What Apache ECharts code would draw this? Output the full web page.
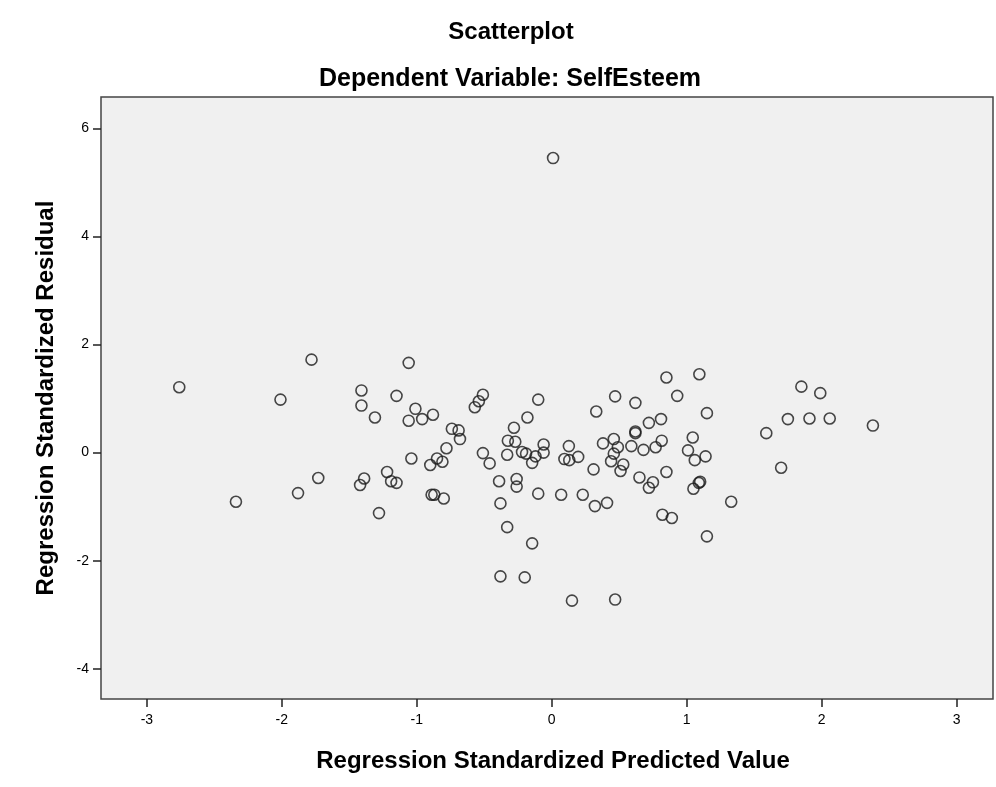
<!DOCTYPE html>
<html>
<head>
<meta charset="utf-8">
<script src="https://cdn.jsdelivr.net/npm/echarts@6/dist/echarts.min.js"></script>
<style>
html, body { margin: 0; padding: 0; background: #fff; }
#main { width: 996px; height: 787px; }
</style>
</head>
<body>
<div id="main"></div>
<script>
// predicted values (x) and residuals (y)
var predicted = [
    -2.76, -1.78, -2.01, -1.41, -1.41, -1.31, -1.15, -2.34, -1.88, -1.73,
    -1.39, -1.42, -1.22, -1.19, -1.15, -1.28, -1.06, -1.01, -1.06, -0.96,
    -0.88, -1.04, -0.74, -0.69, -0.68, -0.78, -0.85, -0.81, -0.90, -0.89,
    -0.87, -0.80, -0.57, -0.54, -0.51, -0.51, -0.46, -0.39, -0.38, -0.33,
    -0.26, -0.26, -0.325, -0.28, -0.27, -0.33, -0.18, -0.10, -0.22, -0.19,
    -0.12, -0.145, -0.06, -0.06, -0.10, -0.145, 0.07, 0.127, 0.094, 0.13,
    0.196, 0.23, 0.31, 0.33, 0.32, 0.41, 0.38, 0.46, 0.49, 0.46,
    0.44, 0.53, 0.51, 0.47, 0.62, 0.62, 0.62, 0.59, 0.68, 0.65,
    0.72, 0.81, 0.815, 0.77, 0.85, 0.93, 0.85, 0.75, 0.72, 0.82,
    0.89, 1.094, 1.15, 1.045, 1.01, 1.06, 1.14, 1.09, 1.10, 1.05,
    1.33, 1.15, 1.59, 1.70, 1.75, 1.85, 1.99, 1.91, 2.06, 2.38,
    -0.38, -0.20, 0.15, 0.47, 0.01
];
var residual = [
    1.21, 1.72, 0.98, 1.15, 0.87, 0.65, 1.05, -0.91, -0.75, -0.47,
    -0.48, -0.60, -0.36, -0.53, -0.56, -1.12, 1.66, 0.81, 0.59, 0.62,
    0.70, -0.11, 0.44, 0.41, 0.25, 0.08, -0.11, -0.17, -0.23, -0.78,
    -0.78, -0.85, 0.84, 0.95, 1.07, -0.01, -0.20, -0.53, -0.94, -1.38,
    -0.49, -0.63, 0.22, 0.46, 0.20, -0.04, 0.65, 0.98, 0.01, -0.02,
    -0.07, -0.19, 0.15, 0.00, -0.76, -1.68, -0.78, 0.12, -0.12, -0.14,
    -0.08, -0.78, -0.31, 0.76, -0.99, -0.93, 0.17, 0.25, 0.10, -0.02,
    -0.16, -0.22, -0.34, 1.04, 0.92, 0.39, 0.36, 0.12, 0.05, -0.46,
    0.55, 0.62, 0.22, 0.10, 1.39, 1.05, -0.36, -0.55, -0.65, -1.15,
    -1.21, 1.45, 0.73, 0.28, 0.04, -0.14, -0.07, -0.56, -0.54, -0.67,
    -0.91, -1.55, 0.36, -0.28, 0.62, 1.22, 1.10, 0.63, 0.63, 0.50,
    -2.29, -2.31, -2.74, -2.72, 5.45
];
var xTicks = [-3, -2, -1, 0, 1, 2, 3];
var yTicks = [-4, -2, 0, 2, 4, 6];

var points = predicted.map(function (x, i) {
    return [x, residual[i]];
});

var font = '"Liberation Sans", Arial, sans-serif';

var chart = echarts.init(document.getElementById('main'));
chart.setOption({
    animation: false,
    backgroundColor: '#fff',
    graphic: [
        {
            type: 'text', x: 511, y: 32,
            style: { text: 'Scatterplot', fontFamily: font, fontWeight: 'bold', fontSize: 24, fill: '#000', align: 'center', verticalAlign: 'middle' }
        },
        {
            type: 'text', x: 510, y: 79,
            style: { text: 'Dependent Variable: SelfEsteem', fontFamily: font, fontWeight: 'bold', fontSize: 25, fill: '#000', align: 'center', verticalAlign: 'middle' }
        }
    ],
    grid: {
        left: 101,
        top: 97,
        right: 3,
        bottom: 88,
        show: true,
        backgroundColor: '#f0f0f0',
        borderColor: '#444',
        borderWidth: 1.5
    },
    xAxis: {
        type: 'value',
        min: -3.34,
        max: 3.27,
        name: 'Regression Standardized Predicted Value',
        nameLocation: 'middle',
        nameGap: 50,
        nameTextStyle: { fontFamily: font, fontWeight: 'bold', fontSize: 24, color: '#000', padding: [0, 0, 0, 12] },
        axisLine: { show: false, onZero: false },
        splitLine: { show: false },
        axisTick: {
            show: true,
            inside: false,
            length: 8,
            customValues: xTicks,
            lineStyle: { color: '#222', width: 1.5 }
        },
        axisLabel: {
            customValues: xTicks,
            fontFamily: font,
            fontSize: 14,
            color: '#000',
            margin: 14
        }
    },
    yAxis: {
        type: 'value',
        min: -4.56,
        max: 6.58,
        name: 'Regression Standardized Residual',
        nameLocation: 'middle',
        nameGap: 43,
        nameRotate: 90,
        nameTextStyle: { fontFamily: font, fontWeight: 'bold', fontSize: 24, color: '#000' },
        axisLine: { show: false, onZero: false },
        splitLine: { show: false },
        axisTick: {
            show: true,
            inside: false,
            length: 8,
            customValues: yTicks,
            lineStyle: { color: '#222', width: 1.5 }
        },
        axisLabel: {
            customValues: yTicks,
            fontFamily: font,
            fontSize: 14,
            color: '#000',
            margin: 12
        }
    },
    series: [
        {
            type: 'scatter',
            data: points,
            symbol: 'circle',
            symbolSize: 11,
            itemStyle: {
                color: 'rgba(0,0,0,0)',
                borderColor: '#1a1a1a',
                borderWidth: 1.6
            }
        }
    ]
});
</script>
</body>
</html>
